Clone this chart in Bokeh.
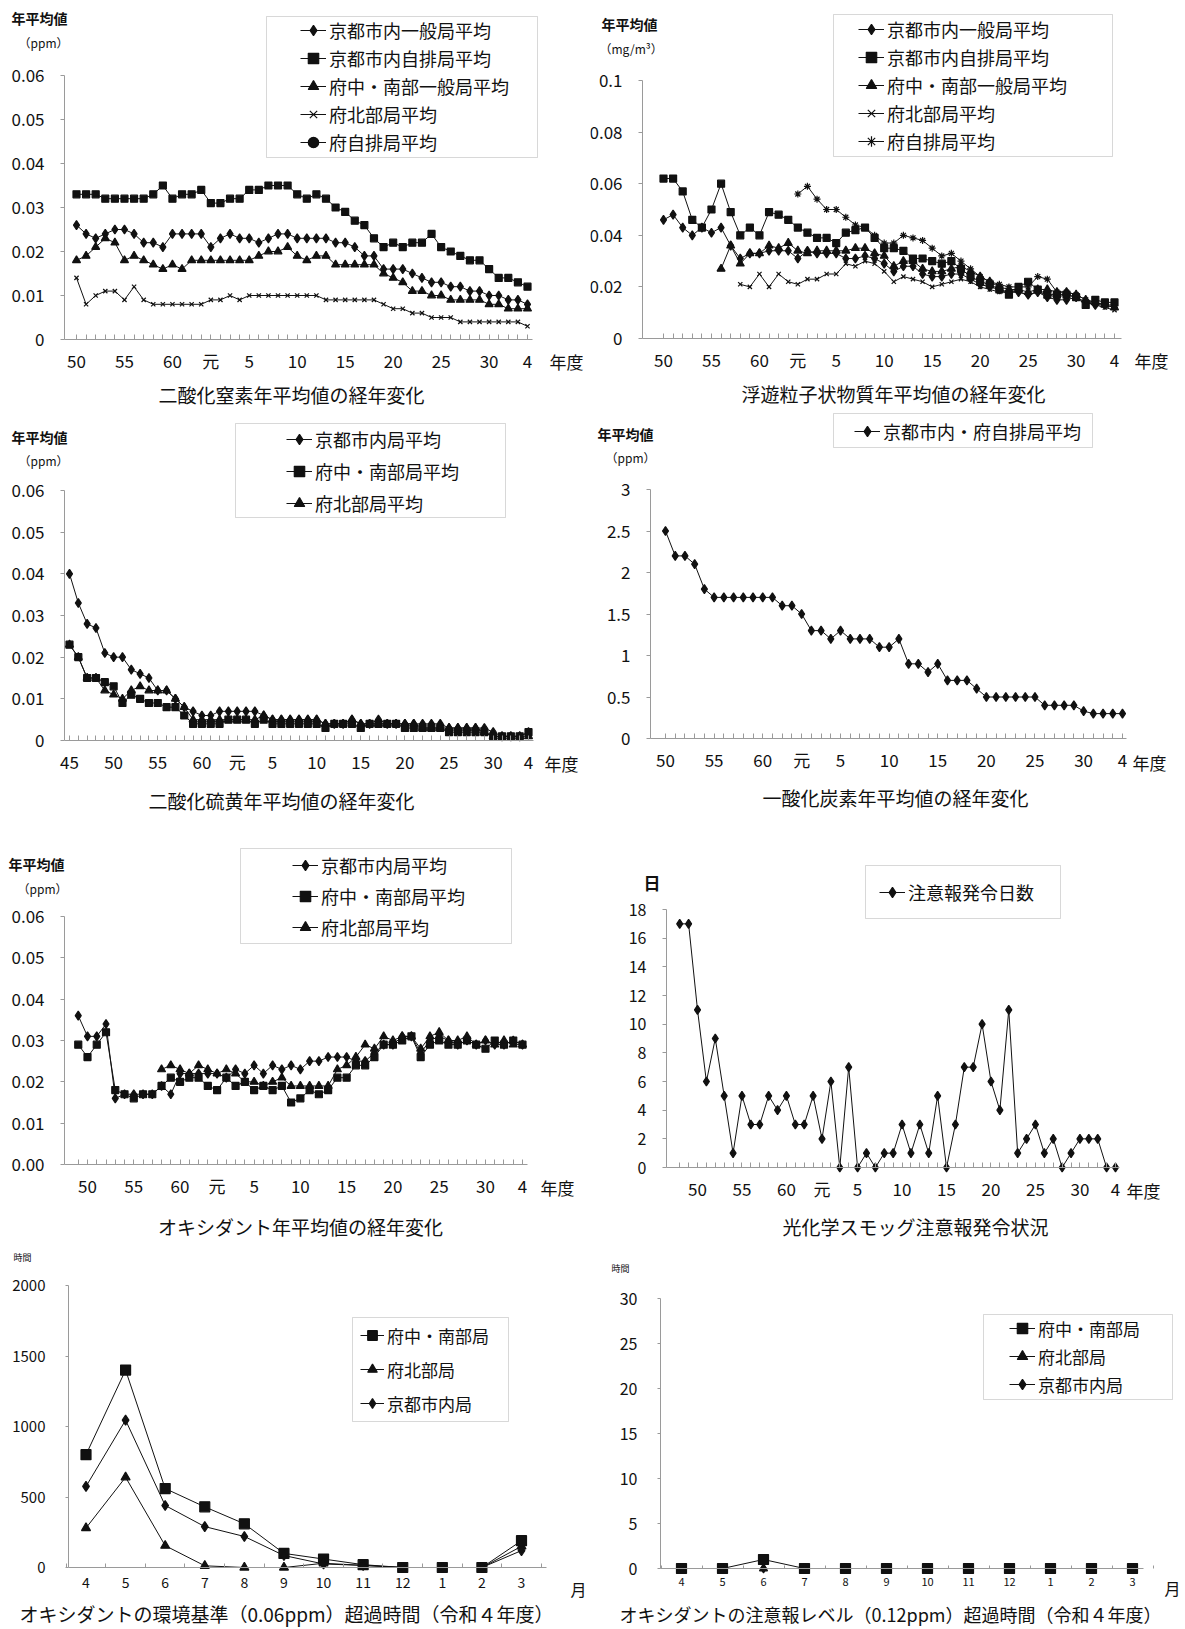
from bokeh.plotting import figure
from bokeh.models import Range1d, FixedTicker, Label, Legend, LegendItem, BoxAnnotation
from bokeh.layouts import column, row
from bokeh.embed import file_html
from bokeh.resources import INLINE

JP = "Noto Sans CJK JP"
INK = "#111111"
AXIS = "#9a9a9a"

# ---------------- data ----------------
ERA_TICK_YEARS = [1975, 1980, 1985, 1989, 1993, 1998, 2003, 2008, 2013, 2018, 2022]
ERA_TICK_TEXT = ["50", "55", "60", "元", "5", "10", "15", "20", "25", "30", "4"]
SO2_TICK_YEARS = [1970] + ERA_TICK_YEARS
SO2_TICK_TEXT = ["45"] + ERA_TICK_TEXT

# NO2 (ppm), fiscal years from 1975
NO2_CITY_GENERAL = [0.026, 0.024, 0.023, 0.024, 0.025, 0.025, 0.024, 0.022, 0.022, 0.021,
                    0.024, 0.024, 0.024, 0.024, 0.021, 0.023, 0.024, 0.023, 0.023, 0.022,
                    0.023, 0.024, 0.024, 0.023, 0.023, 0.023, 0.023, 0.022, 0.022, 0.021,
                    0.019, 0.019, 0.016, 0.016, 0.016, 0.015, 0.014, 0.013, 0.013, 0.012,
                    0.012, 0.011, 0.011, 0.010, 0.010, 0.009, 0.009, 0.008]
NO2_CITY_ROADSIDE = [0.033, 0.033, 0.033, 0.032, 0.032, 0.032, 0.032, 0.032, 0.033, 0.035,
                     0.032, 0.033, 0.033, 0.034, 0.031, 0.031, 0.032, 0.032, 0.034, 0.034,
                     0.035, 0.035, 0.035, 0.033, 0.032, 0.033, 0.032, 0.030, 0.029, 0.027,
                     0.026, 0.023, 0.021, 0.022, 0.021, 0.022, 0.022, 0.024, 0.021, 0.020,
                     0.019, 0.018, 0.018, 0.016, 0.014, 0.014, 0.013, 0.012]
NO2_SOUTH_GENERAL = [0.018, 0.019, 0.021, 0.023, 0.022, 0.018, 0.019, 0.018, 0.017, 0.016,
                     0.017, 0.016, 0.018, 0.018, 0.018, 0.018, 0.018, 0.018, 0.018, 0.019,
                     0.020, 0.020, 0.021, 0.019, 0.018, 0.019, 0.019, 0.017, 0.017, 0.017,
                     0.017, 0.017, 0.015, 0.014, 0.013, 0.011, 0.011, 0.010, 0.010, 0.009,
                     0.009, 0.009, 0.009, 0.008, 0.008, 0.007, 0.007, 0.007]
NO2_NORTH = [0.014, 0.008, 0.010, 0.011, 0.011, 0.009, 0.012, 0.009, 0.008, 0.008,
             0.008, 0.008, 0.008, 0.008, 0.009, 0.009, 0.010, 0.009, 0.010, 0.010,
             0.010, 0.010, 0.010, 0.010, 0.010, 0.010, 0.009, 0.009, 0.009, 0.009,
             0.009, 0.009, 0.008, 0.007, 0.007, 0.006, 0.006, 0.005, 0.005, 0.005,
             0.004, 0.004, 0.004, 0.004, 0.004, 0.004, 0.004, 0.003]
NO2_PREF_ROADSIDE = []   # no separate line is visible in the chart

# SPM (mg/m3)
SPM_CITY_GENERAL = [0.046, 0.048, 0.043, 0.040, 0.043, 0.041, 0.043, 0.036, 0.031, 0.033,
                    0.033, 0.034, 0.034, 0.034, 0.031, 0.034, 0.033, 0.033, 0.033, 0.031,
                    0.031, 0.032, 0.031, 0.029, 0.026, 0.028, 0.028, 0.025, 0.024, 0.024,
                    0.025, 0.025, 0.023, 0.021, 0.020, 0.019, 0.018, 0.018, 0.017, 0.018,
                    0.016, 0.015, 0.015, 0.016, 0.014, 0.013, 0.013, 0.013]
SPM_CITY_ROADSIDE = [0.062, 0.062, 0.057, 0.046, 0.043, 0.050, 0.060, 0.049, 0.040, 0.043,
                     0.040, 0.049, 0.048, 0.046, 0.043, 0.041, 0.039, 0.039, 0.037, 0.041,
                     0.042, 0.043, 0.039, 0.035, 0.035, 0.034, 0.031, 0.031, 0.030, 0.029,
                     0.030, 0.027, 0.024, 0.022, 0.021, 0.019, 0.017, 0.020, 0.022, 0.019,
                     0.017, 0.017, 0.017, 0.016, 0.013, 0.015, 0.014, 0.014]
SPM_SOUTH_START = 1981
SPM_SOUTH_GENERAL = [0.027, 0.036, 0.029, 0.033, 0.033, 0.036, 0.035, 0.037,
                     0.034, 0.033, 0.034, 0.034, 0.034, 0.034, 0.035, 0.035, 0.033, 0.032,
                     0.028, 0.030, 0.030, 0.027, 0.026, 0.026, 0.027, 0.028, 0.026, 0.024,
                     0.022, 0.020, 0.019, 0.019, 0.018, 0.019, 0.019, 0.018, 0.018, 0.017,
                     0.015, 0.014, 0.013, 0.012]
SPM_NORTH_START = 1983
SPM_NORTH = [0.021, 0.020, 0.025, 0.020, 0.025, 0.022,
             0.021, 0.023, 0.023, 0.025, 0.025, 0.029, 0.028, 0.030, 0.029, 0.026,
             0.022, 0.024, 0.023, 0.022, 0.020, 0.021, 0.022, 0.023, 0.022, 0.020,
             0.019, 0.018, 0.018, 0.018, 0.017, 0.018, 0.017, 0.016, 0.017, 0.016,
             0.014, 0.013, 0.012, 0.011]
SPM_PREF_START = 1989
SPM_PREF_ROADSIDE = [0.056, 0.059, 0.054, 0.050, 0.050, 0.047, 0.044, 0.043, 0.040, 0.037,
                     0.037, 0.040, 0.039, 0.038, 0.035, 0.032, 0.033, 0.030, 0.027, 0.024,
                     0.022, 0.021, 0.020, 0.020, 0.020, 0.024, 0.023, 0.018, 0.018, 0.017,
                     0.015, 0.014, 0.013, 0.012]

# SO2 (ppm), from 1970
SO2_CITY = [0.040, 0.033, 0.028, 0.027, 0.021, 0.020, 0.020, 0.017, 0.016, 0.015,
            0.012, 0.012, 0.010, 0.008, 0.007, 0.006, 0.006, 0.007, 0.007, 0.007,
            0.007, 0.007, 0.006, 0.005, 0.005, 0.005, 0.005, 0.005, 0.005, 0.004,
            0.004, 0.004, 0.005, 0.004, 0.004, 0.005, 0.004, 0.004, 0.004, 0.004,
            0.004, 0.004, 0.004, 0.003, 0.003, 0.003, 0.003, 0.003, 0.002, 0.001,
            0.001, 0.001, 0.002]
SO2_SOUTH = [0.023, 0.020, 0.015, 0.015, 0.014, 0.013, 0.009, 0.011, 0.010, 0.009,
             0.009, 0.008, 0.008, 0.006, 0.004, 0.004, 0.004, 0.004, 0.005, 0.005,
             0.005, 0.004, 0.005, 0.004, 0.004, 0.004, 0.004, 0.004, 0.004, 0.003,
             0.004, 0.004, 0.004, 0.003, 0.004, 0.004, 0.004, 0.004, 0.003, 0.003,
             0.003, 0.003, 0.003, 0.002, 0.002, 0.002, 0.002, 0.002, 0.001, 0.001,
             0.001, 0.001, 0.002]
SO2_NORTH = [0.023, 0.020, 0.015, 0.015, 0.012, 0.011, 0.010, 0.012, 0.013, 0.012,
             0.012, 0.012, 0.010, 0.008, 0.005, 0.005, 0.005, 0.005, 0.005, 0.005,
             0.005, 0.005, 0.006, 0.005, 0.005, 0.005, 0.005, 0.005, 0.005, 0.004,
             0.004, 0.004, 0.005, 0.004, 0.004, 0.004, 0.004, 0.004, 0.004, 0.004,
             0.003, 0.003, 0.003, 0.003, 0.003, 0.003, 0.003, 0.002, 0.001, 0.001,
             0.001, 0.001, 0.001]

# CO (ppm), from 1975
CO_ROADSIDE = [2.5, 2.2, 2.2, 2.1, 1.8, 1.7, 1.7, 1.7, 1.7, 1.7,
               1.7, 1.7, 1.6, 1.6, 1.5, 1.3, 1.3, 1.2, 1.3, 1.2,
               1.2, 1.2, 1.1, 1.1, 1.2, 0.9, 0.9, 0.8, 0.9, 0.7,
               0.7, 0.7, 0.6, 0.5, 0.5, 0.5, 0.5, 0.5, 0.5, 0.4,
               0.4, 0.4, 0.4, 0.33, 0.3, 0.3, 0.3, 0.3]

# Ox (ppm), from 1974 (north from 1983)
OX_START = 1974
OX_CITY = [0.036, 0.031, 0.031, 0.034, 0.016, 0.017, 0.017, 0.017, 0.017, 0.019, 0.017,
           0.022, 0.022, 0.022, 0.022, 0.022, 0.021, 0.023, 0.022, 0.024, 0.022,
           0.024, 0.023, 0.024, 0.023, 0.025, 0.025, 0.026, 0.026, 0.026, 0.025,
           0.025, 0.027, 0.029, 0.029, 0.031, 0.031, 0.027, 0.030, 0.031, 0.030,
           0.029, 0.030, 0.029, 0.030, 0.029, 0.029, 0.030, 0.029]
OX_SOUTH = [0.029, 0.026, 0.029, 0.032, 0.018, 0.017, 0.016, 0.017, 0.017, 0.019, 0.021,
            0.020, 0.021, 0.021, 0.019, 0.018, 0.021, 0.019, 0.020, 0.018, 0.019,
            0.018, 0.019, 0.015, 0.016, 0.018, 0.017, 0.018, 0.021, 0.021, 0.024,
            0.024, 0.026, 0.029, 0.029, 0.030, 0.031, 0.026, 0.029, 0.030, 0.029,
            0.029, 0.030, 0.029, 0.028, 0.030, 0.029, 0.030, 0.029]
OX_NORTH_START = 1983
OX_NORTH = [0.023, 0.024, 0.023, 0.022, 0.024, 0.023, 0.022, 0.023, 0.022, 0.020,
            0.020, 0.019, 0.020, 0.021, 0.019, 0.019, 0.019, 0.019, 0.019, 0.023,
            0.024, 0.026, 0.029, 0.028, 0.031, 0.030, 0.031, 0.031, 0.028, 0.031,
            0.032, 0.030, 0.030, 0.031, 0.029, 0.030, 0.029, 0.030, 0.029, 0.029]

# photochemical smog advisory days, from 1973
SMOG_START = 1973
SMOG_DAYS = [17, 17, 11, 6, 9, 5, 1, 5, 3, 3,
             5, 4, 5, 3, 3, 5, 2, 6, 0, 7,
             0, 1, 0, 1, 1, 3, 1, 3, 1, 5,
             0, 3, 7, 7, 10, 6, 4, 11, 1, 2,
             3, 1, 2, 0, 1, 2, 2, 2, 0, 0]

# monthly exceedance hours (FY Reiwa 4)
MONTHS = ["4", "5", "6", "7", "8", "9", "10", "11", "12", "1", "2", "3"]
H006_SOUTH = [800, 1400, 560, 430, 310, 100, 60, 20, 0, 0, 0, 190]
H006_NORTH = [280, 640, 155, 12, 0, 0, 30, 15, 0, 0, 0, 150]
H006_CITY = [575, 1045, 440, 290, 220, 85, 25, 15, 0, 0, 0, 120]
H012_SOUTH = [0, 0, 1, 0, 0, 0, 0, 0, 0, 0, 0, 0]
H012_NORTH = [0, 0, 0, 0, 0, 0, 0, 0, 0, 0, 0, 0]
H012_CITY = [0, 0, 0, 0, 0, 0, 0, 0, 0, 0, 0, 0]


def years_from(start, vals):
    return [start + i for i in range(len(vals))]


# ---------------- helpers ----------------
def make_fig(origin, size, xcal, ycal):
    """Frame fills the whole figure; the axes are pinned inside it."""
    ox, oy = origin
    W, H = size
    (xa, pxa), (xb, pxb) = xcal
    (ya, pya), (yb, pyb) = ycal
    kx = (pxb - pxa) / (xb - xa)
    ky = (pya - pyb) / (yb - ya)
    xr = Range1d(xa + (ox - pxa) / kx, xa + (ox + W - pxa) / kx)
    yr = Range1d(ya - (oy + H - pya) / ky, ya + (pya - oy) / ky)
    p = figure(width=W, height=H, x_range=xr, y_range=yr, output_backend="svg",
               toolbar_location=None, min_border=0, min_border_left=0,
               min_border_right=0, min_border_top=0, min_border_bottom=0)
    p.outline_line_color = None
    p.xgrid.visible = False
    p.ygrid.visible = False
    p.background_fill_color = "white"
    p.border_fill_color = "white"

    def at(px, py):
        return xa + (px - pxa) / kx, ya + (pya - py) / ky
    return p, at


def add_text(p, at, px, py, s, size, align="left", bold=False):
    x, y = at(px, py)
    p.add_layout(Label(x=x, y=y, text=s, text_font=JP, text_font_size=f"{size}px",
                       text_align=align, text_baseline="middle", text_color=INK,
                       text_font_style="bold" if bold else "normal"))


def style_y(p, at, axis_px, ticks, labels, font_px, standoff, tick_out=4):
    ax = p.yaxis[0]
    ax.fixed_location = at(axis_px, 0)[0]
    ax.ticker = FixedTicker(ticks=ticks)
    ax.major_label_overrides = {t: l for t, l in zip(ticks, labels)}
    ax.bounds = (ticks[0], ticks[-1])
    ax.axis_line_color = AXIS
    ax.major_tick_line_color = AXIS
    ax.major_tick_out = tick_out
    ax.major_tick_in = 0
    ax.minor_tick_line_color = None
    ax.major_label_text_font = JP
    ax.major_label_text_font_size = f"{font_px}px"
    ax.major_label_text_color = INK
    ax.major_label_standoff = standoff


def style_x(p, at, x_px_span, ticks, label_map, font_px, standoff, tick_in=5, minor=None):
    ax = p.xaxis[0]
    ax.fixed_location = 0
    ax.bounds = (at(x_px_span[0], 0)[0], at(x_px_span[1], 0)[0])
    if minor is None:
        ax.ticker = FixedTicker(ticks=ticks)
        ax.minor_tick_line_color = None
        ax.major_tick_in = tick_in
    else:
        ax.ticker = FixedTicker(ticks=ticks, minor_ticks=minor)
        ax.major_tick_in = 0
        ax.minor_tick_in = tick_in
        ax.minor_tick_out = 0
        ax.minor_tick_line_color = AXIS
    ax.major_tick_out = 0
    ax.major_label_overrides = {t: label_map.get(t, "") for t in ticks}
    ax.axis_line_color = AXIS
    ax.major_tick_line_color = AXIS
    ax.major_label_text_font = JP
    ax.major_label_text_font_size = f"{font_px}px"
    ax.major_label_text_color = INK
    ax.major_label_standoff = standoff


HIDDEN_X = 2000


def add_series(p, xs, ys, marker, size):
    if len(ys) == 0:          # legend-only entry (no visible line in the chart)
        xs, ys = [HIDDEN_X], [float("nan")]
    r1 = p.line(xs, ys, line_color=INK, line_width=1)
    r2 = p.scatter(xs, ys, marker=marker, size=size, fill_color=INK, line_color=INK,
                   line_width=1.2)
    return [r1, r2]


def add_legend(p, at, origin, size, items, box, glyph_x, first_cy, gap, font_px,
               glyph_w=26, standoff=3, item_h=26):
    l, t, r, b = box
    x0, y0 = at(l, b)
    x1, y1 = at(r, t)
    p.add_layout(BoxAnnotation(left=x0, right=x1, bottom=y0, top=y1, fill_color="white",
                               fill_alpha=1.0, line_color="#7f7f7f", line_width=1))
    n = len(items)
    spacing = int(round(gap - item_h)) if n > 1 else 0
    top = first_cy - item_h / 2
    bottom = top + n * item_h + (n - 1) * spacing
    ox, oy = origin
    W, H = size
    leg = Legend(items=[LegendItem(label=nm, renderers=rs) for nm, rs in items],
                 location=(glyph_x - ox, oy + H - bottom), orientation="vertical",
                 margin=0, padding=0, spacing=spacing, glyph_width=glyph_w,
                 glyph_height=item_h, label_height=item_h, label_standoff=standoff,
                 label_text_font=JP, label_text_font_size=f"{font_px}px",
                 label_text_color=INK, border_line_color=None,
                 background_fill_alpha=0.0)
    p.add_layout(leg)


def era_map(ticks, texts):
    return dict(zip(ticks, texts))


Y06 = [0, 0.01, 0.02, 0.03, 0.04, 0.05, 0.06]

# ---------------- panel 1: NO2 ----------------
o1, s1 = (0, 0), (590, 410)
p1, at1 = make_fig(o1, s1, ((1975, 76), (2022, 527)), ((0, 339), (0.06, 75)))
yrs = years_from(1975, NO2_CITY_GENERAL)
items = [("京都市内一般局平均", add_series(p1, yrs, NO2_CITY_GENERAL, "diamond", 9)),
         ("京都市内自排局平均", add_series(p1, yrs, NO2_CITY_ROADSIDE, "square", 7)),
         ("府中・南部一般局平均", add_series(p1, yrs, NO2_SOUTH_GENERAL, "triangle", 8)),
         ("府北部局平均", add_series(p1, years_from(1975, NO2_NORTH), NO2_NORTH, "x", 6)),
         ("府自排局平均", add_series(p1, years_from(1975, NO2_PREF_ROADSIDE), NO2_PREF_ROADSIDE, "circle", 4))]
style_y(p1, at1, 64, Y06, ["0", "0.01", "0.02", "0.03", "0.04", "0.05", "0.06"], 17, 16)
style_x(p1, at1, (64, 532), yrs, era_map(ERA_TICK_YEARS, ERA_TICK_TEXT), 17, 8)
add_legend(p1, at1, o1, s1, items, (266, 16, 537, 157), 300, 30, 28.4, 18)
add_text(p1, at1, 11, 17, "年平均値", 14, bold=True)
add_text(p1, at1, 18, 42, "（ppm）", 12)
add_text(p1, at1, 549, 361, "年度", 17)
add_text(p1, at1, 291, 394, "二酸化窒素年平均値の経年変化", 19, align="center")

# ---------------- panel 2: SPM ----------------
o2, s2 = (590, 0), (594, 410)
p2, at2 = make_fig(o2, s2, ((1975, 663), (2022, 1114)), ((0, 338), (0.1, 80)))
yrs = years_from(1975, SPM_CITY_GENERAL)
items = [("京都市内一般局平均", add_series(p2, yrs, SPM_CITY_GENERAL, "diamond", 9)),
         ("京都市内自排局平均", add_series(p2, yrs, SPM_CITY_ROADSIDE, "square", 7)),
         ("府中・南部一般局平均", add_series(p2, years_from(SPM_SOUTH_START, SPM_SOUTH_GENERAL), SPM_SOUTH_GENERAL, "triangle", 8)),
         ("府北部局平均", add_series(p2, years_from(SPM_NORTH_START, SPM_NORTH), SPM_NORTH, "x", 6)),
         ("府自排局平均", add_series(p2, years_from(SPM_PREF_START, SPM_PREF_ROADSIDE), SPM_PREF_ROADSIDE, "asterisk", 7))]
style_y(p2, at2, 642, [0, 0.02, 0.04, 0.06, 0.08, 0.1], ["0", "0.02", "0.04", "0.06", "0.08", "0.1"], 17, 16)
style_x(p2, at2, (642, 1121), yrs, era_map(ERA_TICK_YEARS, ERA_TICK_TEXT), 17, 8)
add_legend(p2, at2, o2, s2, items, (833, 14, 1112, 156), 858, 29, 28.5, 18)
add_text(p2, at2, 601, 23, "年平均値", 14, bold=True)
add_text(p2, at2, 599, 48, "（mg/m³）", 12)
add_text(p2, at2, 1134, 360, "年度", 17)
add_text(p2, at2, 893, 393, "浮遊粒子状物質年平均値の経年変化", 19, align="center")

# ---------------- panel 3: SO2 ----------------
o3, s3 = (0, 410), (590, 412)
p3, at3 = make_fig(o3, s3, ((1970, 69), (2022, 528)), ((0, 740), (0.06, 490)))
yrs = years_from(1970, SO2_CITY)
items = [("京都市内局平均", add_series(p3, yrs, SO2_CITY, "diamond", 9)),
         ("府中・南部局平均", add_series(p3, yrs, SO2_SOUTH, "square", 7)),
         ("府北部局平均", add_series(p3, yrs, SO2_NORTH, "triangle", 8))]
style_y(p3, at3, 64, Y06, ["0", "0.01", "0.02", "0.03", "0.04", "0.05", "0.06"], 17, 16)
style_x(p3, at3, (64, 533), yrs, era_map(SO2_TICK_YEARS, SO2_TICK_TEXT), 17, 8)
add_legend(p3, at3, o3, s3, items, (235, 423, 505, 517), 286, 439, 31.5, 18)
add_text(p3, at3, 11, 436, "年平均値", 14, bold=True)
add_text(p3, at3, 18, 460, "（ppm）", 12)
add_text(p3, at3, 544, 763, "年度", 17)
add_text(p3, at3, 281, 800, "二酸化硫黄年平均値の経年変化", 19, align="center")

# ---------------- panel 4: CO ----------------
o4, s4 = (590, 410), (594, 412)
p4, at4 = make_fig(o4, s4, ((1975, 665), (2022, 1122)), ((0, 738), (3, 489)))
yrs = years_from(1975, CO_ROADSIDE)
items = [("京都市内・府自排局平均", add_series(p4, yrs, CO_ROADSIDE, "diamond", 9))]
style_y(p4, at4, 650, [0, 0.5, 1, 1.5, 2, 2.5, 3], ["0", "0.5", "1", "1.5", "2", "2.5", "3"], 17, 16)
style_x(p4, at4, (650, 1126), yrs, era_map(ERA_TICK_YEARS, ERA_TICK_TEXT), 17, 8)
add_legend(p4, at4, o4, s4, items, (833, 413, 1092, 447), 854, 431, 30, 18)
add_text(p4, at4, 597, 433, "年平均値", 14, bold=True)
add_text(p4, at4, 605, 457, "（ppm）", 12)
add_text(p4, at4, 1132, 762, "年度", 17)
add_text(p4, at4, 895, 797, "一酸化炭素年平均値の経年変化", 19, align="center")

# ---------------- panel 5: Ox ----------------
o5, s5 = (0, 822), (590, 426)
p5, at5 = make_fig(o5, s5, ((1975, 87), (2022, 522)), ((0, 1164), (0.06, 916)))
yrs = years_from(OX_START, OX_CITY)
items = [("京都市内局平均", add_series(p5, yrs, OX_CITY, "diamond", 9)),
         ("府中・南部局平均", add_series(p5, yrs, OX_SOUTH, "square", 7)),
         ("府北部局平均", add_series(p5, years_from(OX_NORTH_START, OX_NORTH), OX_NORTH, "triangle", 8))]
style_y(p5, at5, 64, Y06, ["0.00", "0.01", "0.02", "0.03", "0.04", "0.05", "0.06"], 17, 16)
style_x(p5, at5, (64, 527), yrs, era_map(ERA_TICK_YEARS, ERA_TICK_TEXT), 17, 8)
add_legend(p5, at5, o5, s5, items, (240, 848, 511, 943), 292, 865, 31, 18)
add_text(p5, at5, 8, 863, "年平均値", 14, bold=True)
add_text(p5, at5, 17, 888, "（ppm）", 12)
add_text(p5, at5, 540, 1187, "年度", 17)
add_text(p5, at5, 300, 1226, "オキシダント年平均値の経年変化", 19, align="center")

# ---------------- panel 6: smog advisory days ----------------
o6, s6 = (590, 822), (594, 426)
p6, at6 = make_fig(o6, s6, ((1975, 697), (2022, 1115)), ((0, 1167), (18, 909)))
yrs = years_from(SMOG_START, SMOG_DAYS)
items = [("注意報発令日数", add_series(p6, yrs, SMOG_DAYS, "diamond", 9))]
style_y(p6, at6, 666, list(range(0, 19, 2)), [str(v) for v in range(0, 19, 2)], 16, 16)
style_x(p6, at6, (666, 1119), yrs, era_map(ERA_TICK_YEARS, ERA_TICK_TEXT), 17, 8)
add_legend(p6, at6, o6, s6, items, (865, 865, 1060, 918), 879, 892, 30, 18)
add_text(p6, at6, 643, 882, "日", 17, bold=True)
add_text(p6, at6, 1126, 1190, "年度", 17)
add_text(p6, at6, 915, 1226, "光化学スモッグ注意報発令状況", 19, align="center")

# ---------------- panel 7: hours over 0.06 ppm ----------------
o7, s7 = (0, 1248), (590, 380)
p7, at7 = make_fig(o7, s7, ((0, 85.5), (11, 521)), ((0, 1567), (2000, 1285)))
mx = list(range(len(MONTHS)))
items = [("府中・南部局", add_series(p7, mx, H006_SOUTH, "square", 10)),
         ("府北部局", add_series(p7, mx, H006_NORTH, "triangle", 9)),
         ("京都市内局", add_series(p7, mx, H006_CITY, "diamond", 10))]
style_y(p7, at7, 68, [0, 500, 1000, 1500, 2000], ["0", "500", "1000", "1500", "2000"], 15, 20, tick_out=3)
style_x(p7, at7, (68, 546), mx, dict(zip(mx, MONTHS)), 14, 9, tick_in=4,
        minor=[i + 0.5 for i in range(-1, 12)])
add_legend(p7, at7, o7, s7, items, (352, 1317, 508, 1421), 360, 1335, 33.5, 17, glyph_w=24)
add_text(p7, at7, 13, 1257, "時間", 9)
add_text(p7, at7, 570, 1588, "月", 16)
add_text(p7, at7, 286, 1613, "オキシダントの環境基準（0.06ppm）超過時間（令和４年度）", 19, align="center")

# ---------------- panel 8: hours over 0.12 ppm ----------------
o8, s8 = (590, 1248), (594, 380)
p8, at8 = make_fig(o8, s8, ((0, 681), (11, 1132)), ((0, 1568), (30, 1298)))
items = [("府中・南部局", add_series(p8, mx, H012_SOUTH, "square", 10)),
         ("府北部局", add_series(p8, mx, H012_NORTH, "triangle", 8)),
         ("京都市内局", add_series(p8, mx, H012_CITY, "diamond", 9))]
style_y(p8, at8, 660, [0, 5, 10, 15, 20, 25, 30], ["0", "5", "10", "15", "20", "25", "30"], 16, 20, tick_out=3)
style_x(p8, at8, (660, 1143), mx, dict(zip(mx, MONTHS)), 11, 9, tick_in=3,
        minor=[i + 0.5 for i in range(-1, 12)])
add_legend(p8, at8, o8, s8, items, (983, 1314, 1172, 1399), 1009, 1328, 28.5, 17)
add_text(p8, at8, 611, 1268, "時間", 9)
add_text(p8, at8, 1164, 1587, "月", 16)
add_text(p8, at8, 890, 1613, "オキシダントの注意報レベル（0.12ppm）超過時間（令和４年度）", 18, align="center")

layout = column(row(p1, p2), row(p3, p4), row(p5, p6), row(p7, p8))
open("out.html", "w").write(file_html(layout, INLINE))
